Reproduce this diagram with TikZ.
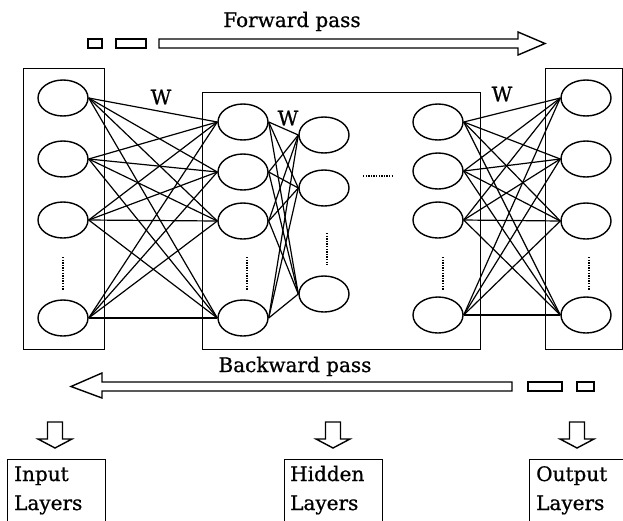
\documentclass[tikz,border=0pt]{standalone}
\usepackage{fontspec}
\setmainfont{DejaVu Serif}
\newfontfamily\lblfont{DejaVu Serif}[FakeBold=0.8]
\usetikzlibrary{shapes.geometric,positioning}

\tikzset{
  neuron/.style={draw, ellipse, line width=1.4pt, minimum width=50pt, minimum height=36pt, inner sep=0pt},
  layerbox/.style={draw, line width=1pt, inner sep=0pt},
  link/.style={line width=1.2pt},
  vdots/.style={line width=2.2pt, dash pattern=on 1.3pt off 1.3pt},
  lbl/.style={font=\lblfont\fontsize{20}{24}\selectfont, inner sep=0pt},
  hollow/.style={draw, line width=1.4pt, line join=miter},
}

\begin{document}
\begin{tikzpicture}[x=1pt,y=-1pt]
  \useasboundingbox (0,0) rectangle (623,520);
  \clip (0,0) rectangle (623,520);

  % layer boxes
  \draw[layerbox] (23,68) rectangle (104,349);
  \draw[layerbox] (202,92) rectangle (480,349);
  \draw[layerbox] (545,68) rectangle (622,349);

  % neurons
  \foreach \y [count=\i] in {98,159,220,318}
    \node[neuron] (in\i) at (63,\y) {};
  \foreach \y [count=\i] in {122,172,221,318}
    \node[neuron] (ha\i) at (243,\y) {};
  \foreach \y [count=\i] in {135,188,294}
    \node[neuron] (hb\i) at (324,\y) {};
  \foreach \y [count=\i] in {122,171,220,315}
    \node[neuron] (hc\i) at (438,\y) {};
  \foreach \y [count=\i] in {98,159,221,315}
    \node[neuron] (out\i) at (586,\y) {};

  % weights
  \foreach \i in {1,...,4}
    \foreach \j in {1,...,4}
      \draw[link] (in\i.east) -- (ha\j.west);
  \foreach \i in {1,...,4}
    \foreach \j in {1,...,3}
      \draw[link] (ha\i.east) -- (hb\j.west);
  \foreach \i in {1,...,4}
    \foreach \j in {1,...,4}
      \draw[link] (hc\i.east) -- (out\j.west);

  % dots
  \foreach \x in {63,247,443,589}
    \draw[vdots] (\x,257) -- (\x,290);
  \draw[vdots] (327,233) -- (327,265);
  \draw[vdots] (363,176) -- (393,176);

  \node[lbl] (w1) at (161,97) {W};
  \node[lbl] (w2) at (288,118) {W};
  \node[lbl] (w3) at (502,94) {W};

  % forward pass
  \node[lbl, anchor=base] (fwd) at (292,27) {Forward pass};
  \draw[hollow] (88,39) rectangle (102,48);
  \draw[hollow] (116,39) rectangle (146,48);
  \draw[hollow] (159,39) -- (518,39) -- (518,32) -- (545,43.5) -- (518,55) -- (518,48) -- (159,48) -- cycle;

  % backward pass
  \node[lbl, anchor=base] (bwd) at (295,372) {Backward pass};
  \draw[hollow] (512,382) -- (102,382) -- (102,373) -- (71,386.5) -- (102,398) -- (102,391) -- (512,391) -- cycle;
  \draw[hollow] (528,382) rectangle (562,391);
  \draw[hollow] (577,382) rectangle (594,391);

  % down arrows
  \foreach \x in {55,333,577}
    \draw[hollow] (\x-7.5,422) -- (\x+7.5,422) -- (\x+7.5,439) -- (\x+17,439) -- (\x,448)
      -- (\x-17,439) -- (\x-7.5,439) -- cycle;

  % legend boxes
  \draw[layerbox] (7,459) rectangle (105,540);
  \draw[layerbox] (284,459) rectangle (382,540);
  \draw[layerbox] (529,459) rectangle (640,540);
  \node[lbl, anchor=base west] (intop) at (14,481) {Input};
  \node[lbl, anchor=base west] (inbot) at (14,510) {Layers};
  \node[lbl, anchor=base west] (hidtop) at (290,481) {Hidden};
  \node[lbl, anchor=base west] (hidbot) at (290,510) {Layers};
  \node[lbl, anchor=base west] (outtop) at (536,481) {Output};
  \node[lbl, anchor=base west] (outbot) at (536,510) {Layers};
\end{tikzpicture}
\end{document}
